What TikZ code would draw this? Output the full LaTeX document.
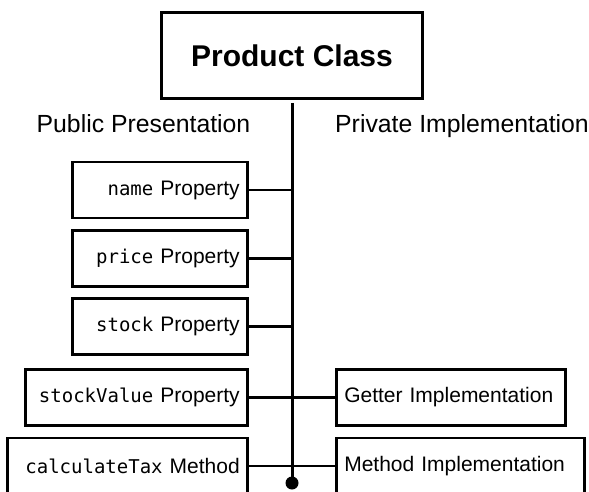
\documentclass[tikz,border=0pt]{standalone}
\usepackage{fontspec}
\setmainfont{Liberation Sans}
\setmonofont{DejaVu Sans Mono}
\usetikzlibrary{positioning}
\newcommand{\mono}[1]{{\ttfamily\fontsize{19}{22}\selectfont #1}}

\begin{document}
\begin{tikzpicture}[x=1pt, y=-1pt,
  font=\fontsize{21}{25}\selectfont,
  classbox/.style={rectangle, draw, line width=3pt, minimum width=261pt,
                   minimum height=86pt, font=\fontsize{30}{34}\selectfont\bfseries},
  head/.style={inner sep=0pt, anchor=base, font=\fontsize{24.8}{28}\selectfont},
  pubbox/.style={rectangle, draw, line width=2.6pt, minimum height=56pt,
                 inner xsep=8pt, inner ysep=0pt, text width=#1, align=right, anchor=east},
  privbox/.style={rectangle, draw, line width=2.6pt, minimum height=56pt,
                  inner xsep=8pt, inner ysep=0pt, text width=#1, align=left, anchor=west},
  spine/.style={line width=3pt, shorten <=2.5pt},
  link/.style={line width=2.6pt}]
  \useasboundingbox (0,0) rectangle (589,492);
  \clip (0,0) rectangle (589,492);

  \node[classbox] (cls) at (292,56) {Product Class};
  \node[head] (pub) at (143.5,133) {Public Presentation};
  \node[head, anchor=base west] (priv) at (335,133) {Private Implementation};

  % public side
  \node[pubbox=159pt] (name)     at (249,190)   {\mono{name} Property};
  \node[pubbox=159pt] (price)    at (249,258.5) {\mono{price} Property};
  \node[pubbox=159pt] (stock)    at (249,326.5) {\mono{stock} Property};
  \node[pubbox=206pt] (stockval) at (249,397.5) {\mono{stockValue} Property};
  \node[pubbox=224pt] (calctax)  at (249,466)   {\mono{calculateTax} Method};

  % private side
  \node[privbox=213pt] (getter)   at (335,397.5) {Getter Implementation};
  \node[privbox=232pt] (methimpl) at (335,466)   {Method Implementation};

  \coordinate (dot) at (292,483);
  \draw[spine] (cls.south) -- (dot);
  \fill (dot) circle (6.5);
  \foreach \n in {name,price,stock}
    \draw[link] (\n.east) -- (\n.east -| dot);
  \draw[link] (stockval.east) -- (getter.west);
  \draw[link] (calctax.east)  -- (methimpl.west);
\end{tikzpicture}
\end{document}
